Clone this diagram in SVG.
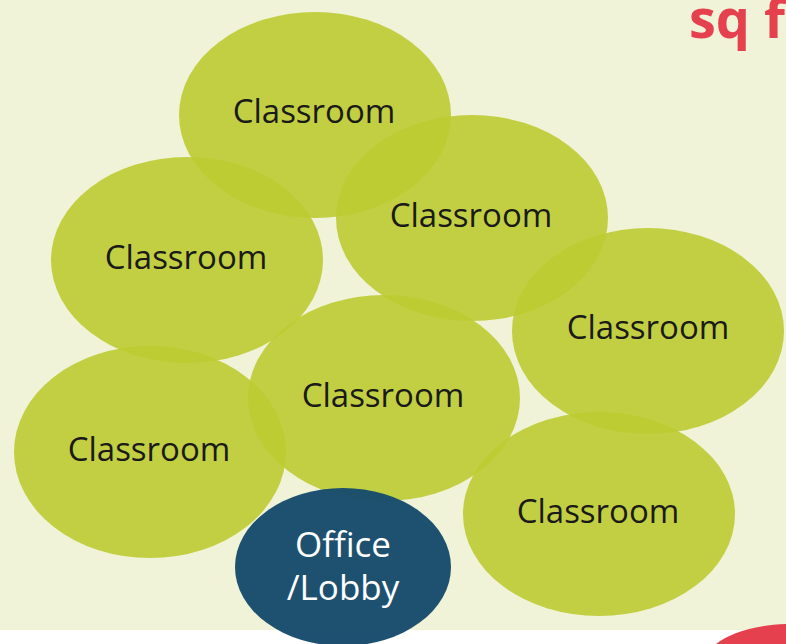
<svg xmlns="http://www.w3.org/2000/svg" width="786" height="644" viewBox="0 0 786 644">
<style>
.room{fill:#bccb32;fill-opacity:0.9}
.lbl{font-family:"Open Sans","Noto Sans",sans-serif;font-size:33px;fill:#1a1a1a;text-anchor:middle}
.off{fill:#174b6c;fill-opacity:0.97}
.olbl{font-family:"Open Sans","Noto Sans",sans-serif;font-size:35px;fill:#ffffff;text-anchor:middle}
</style>
<rect x="0" y="0" width="786" height="630" fill="#f0f3d7"/>
<rect x="0" y="630" width="786" height="14" fill="#ffffff"/>
<path d="M716,644 C728,634 752,625 786,624 L786,644 Z" fill="#e5404e"/>
<text x="689" y="38" font-family="'Open Sans','Noto Sans',sans-serif" font-weight="bold" font-size="54" fill="#e5404e">sq f</text>
<g id="room1"><ellipse class="room" cx="315" cy="115" rx="136" ry="103"/><text class="lbl" x="314" y="123">Classroom</text></g>
<g id="room2"><ellipse class="room" cx="472" cy="218" rx="136" ry="103"/><text class="lbl" x="471" y="227">Classroom</text></g>
<g id="room3"><ellipse class="room" cx="187" cy="260" rx="136" ry="103"/><text class="lbl" x="186" y="269">Classroom</text></g>
<g id="room4"><ellipse class="room" cx="648" cy="331" rx="136" ry="103"/><text class="lbl" x="648" y="339">Classroom</text></g>
<g id="room5"><ellipse class="room" cx="384" cy="398" rx="136" ry="103"/><text class="lbl" x="383" y="407">Classroom</text></g>
<g id="room6"><ellipse class="room" cx="150" cy="452" rx="136" ry="106"/><text class="lbl" x="149" y="461">Classroom</text></g>
<g id="room7"><ellipse class="room" cx="599" cy="514" rx="136" ry="102"/><text class="lbl" x="598" y="523">Classroom</text></g>
<g id="office"><ellipse class="off" cx="343" cy="567" rx="108" ry="79"/><text class="olbl" x="343" y="557">Office</text><text class="olbl" x="343" y="600">/Lobby</text></g>
<g id="connectors"></g>
</svg>
